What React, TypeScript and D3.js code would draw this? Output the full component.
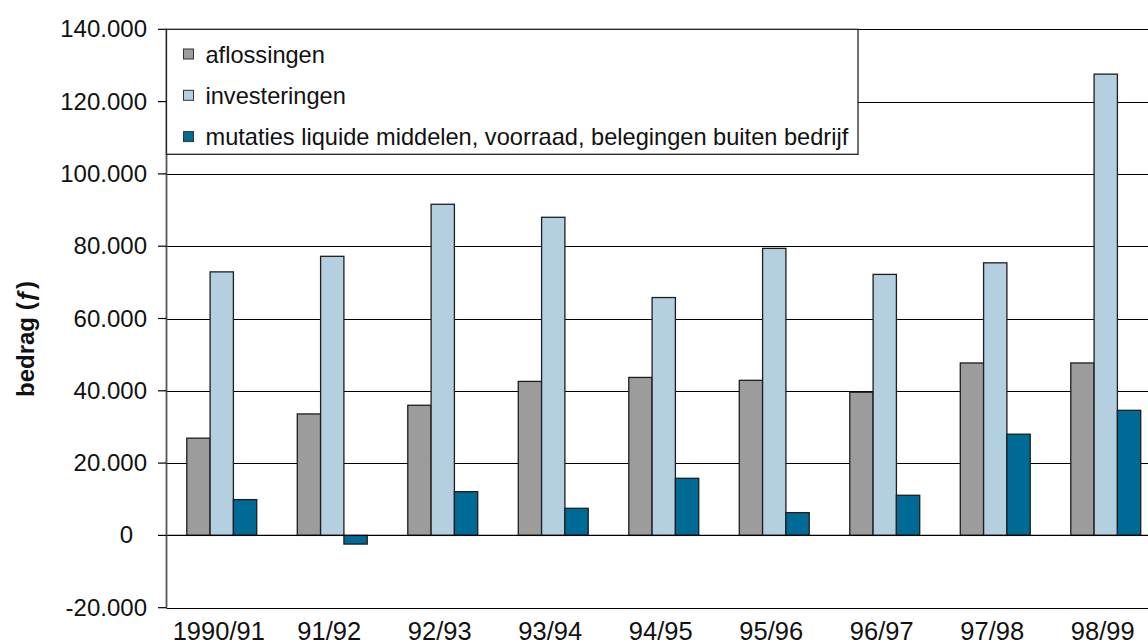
import React from 'react';
import * as d3 from 'd3';

// chart values
const categories = ['1990/91', '91/92', '92/93', '93/94', '94/95', '95/96', '96/97', '97/98', '98/99'];
const seriesNames = ['aflossingen', 'investeringen', 'mutaties liquide middelen, voorraad, belegingen buiten bedrijf'];
const aflossingen = [26900, 33600, 36000, 42600, 43700, 42900, 39600, 47700, 47700];
const investeringen = [72900, 77200, 91600, 88000, 65800, 79400, 72200, 75400, 127600];
const mutaties = [9900, -2400, 12100, 7500, 15800, 6300, 11100, 28000, 34600];
const yTicks = [-20000, 0, 20000, 40000, 60000, 80000, 100000, 120000, 140000];
const yTitle = 'bedrag (ƒ)';

const seriesColors = ['#9c9c9c', '#b4cfe0', '#006a96'];
const font = '"Liberation Sans", Arial, sans-serif';

const W = 1148;
const H = 644;
const left = 166.5;
const step = 110.5;

// dutch style thousands, plain hyphen for negatives
const fmt = (v: number) =>
  v === 0 ? '0' : d3.format(',')(v).replace(/,/g, '.').replace('\u2212', '-');

const App = () => {
  const series = [aflossingen, investeringen, mutaties];

  const y = d3.scaleLinear().domain([-20000, 140000]).range([607.7, 29.3]);
  const x0 = d3.scaleBand<string>()
    .domain(categories)
    .range([left, left + step * categories.length])
    .paddingInner(0.367)
    .paddingOuter(0.1835);
  const x1 = d3.scaleBand<number>()
    .domain(d3.range(series.length))
    .range([0, x0.bandwidth()]);

  const right = left + step * categories.length;

  return (
    <svg width={W} height={H} style={{ position: 'absolute', left: 0, top: 0, background: '#fff' }}>
      {/* gridlines */}
      {yTicks.map((t) => (
        <line key={'g' + t} x1={left} x2={right} y1={Math.round(y(t)) + 0.5} y2={Math.round(y(t)) + 0.5}
          stroke="#000" strokeWidth={1.2} />
      ))}

      {/* bars */}
      {categories.map((c, i) => (
        <g key={c} transform={`translate(${x0(c)},0)`}>
          {series.map((s, j) => {
            const v = s[i];
            const y0 = y(Math.max(0, v));
            const h = Math.abs(y(v) - y(0));
            return (
              <rect key={j} x={x1(j)} y={y0} width={x1.bandwidth()} height={h}
                fill={seriesColors[j]} stroke="#1e1e1e" strokeWidth={1.3} />
            );
          })}
        </g>
      ))}

      {/* zero line */}
      <line x1={left} x2={right} y1={y(0)} y2={y(0)} stroke="#000" strokeWidth={1.3} />

      {/* y axis */}
      <line x1={left} x2={left} y1={y(140000)} y2={y(-20000)} stroke="#555" strokeWidth={1.8} />
      {yTicks.map((t) => (
        <g key={'t' + t}>
          <line x1={158} x2={left} y1={y(t)} y2={y(t)} stroke="#000" strokeWidth={1.2} />
          <text x={t === 0 ? 133 : 147} y={y(t) + 8} textAnchor="end" fontFamily={font} fontSize={24} fill="#111">
            {fmt(t)}
          </text>
        </g>
      ))}

      {/* x labels */}
      {categories.map((c) => (
        <text key={'x' + c} x={(x0(c) as number) + x0.bandwidth() / 2 - 3} y={639.5} textAnchor="middle"
          fontFamily={font} fontSize={25.5} fill="#111">
          {c}
        </text>
      ))}

      {/* y title */}
      <text transform={`translate(34,339) rotate(-90)`} textAnchor="middle" fontFamily={font}
        fontSize={24} fontWeight="bold" fill="#111">
        {yTitle}
      </text>

      {/* legend */}
      <rect x={left} y={29.3} width={858 - left} height={125} fill="#fff" stroke="#222" strokeWidth={1.3} />
      {seriesNames.map((n, j) => (
        <g key={n} transform={`translate(0,${54 + j * 41.3})`}>
          <rect x={183.5} y={-5} width={10} height={10} fill={seriesColors[j]} stroke="#333" strokeWidth={1} />
          <text x={205.5} y={8.5} fontFamily={font} fontSize={23.6} fill="#111">{n}</text>
        </g>
      ))}
    </svg>
  );
};

export default App;
